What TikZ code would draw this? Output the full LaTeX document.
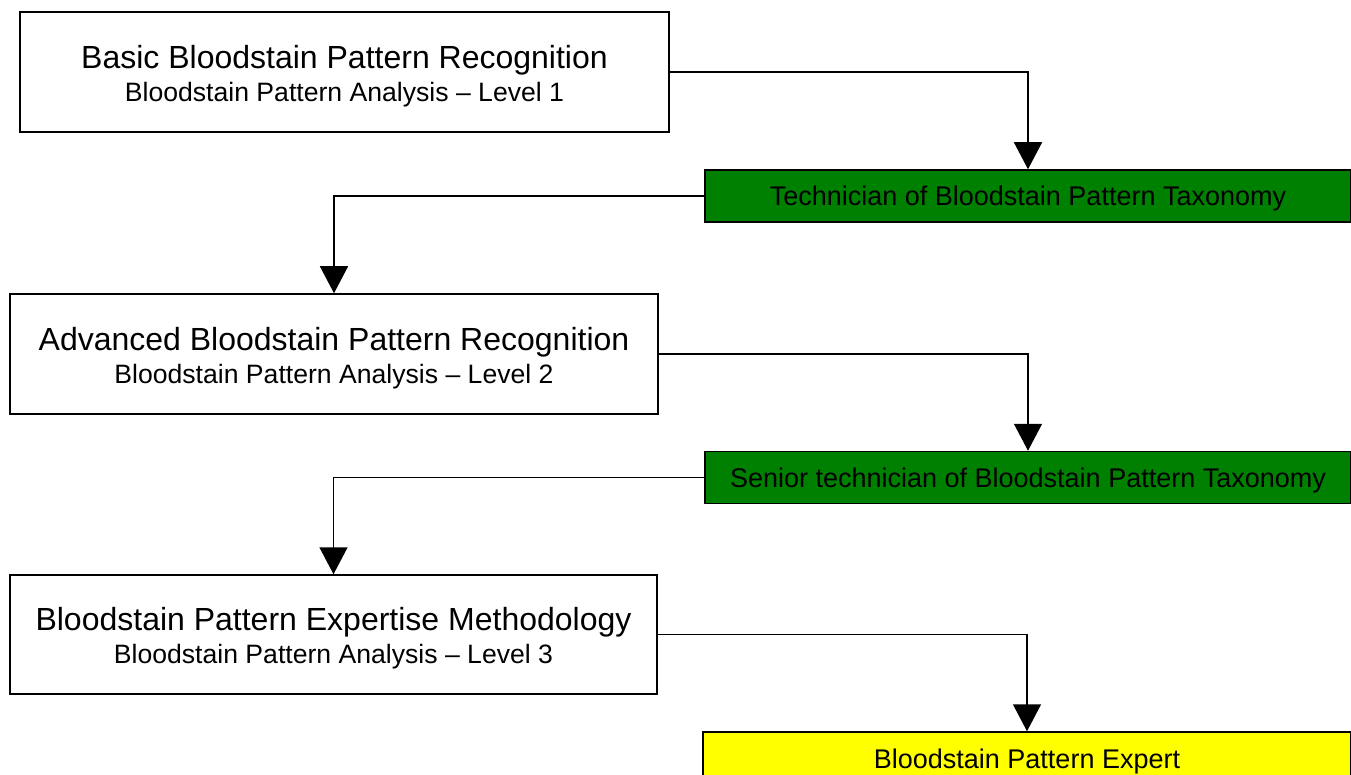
\documentclass[tikz,border=0pt]{standalone}
\usepackage{fontspec}
\setmainfont{Liberation Sans}
\usetikzlibrary{arrows.meta}
\usetikzlibrary{positioning}
\definecolor{rankgreen}{RGB}{0,128,0}
\definecolor{rankyellow}{RGB}{255,255,0}
\newcommand{\coursetitle}{\fontsize{32}{33}\selectfont}
\tikzstyle{course} = [rectangle, minimum width=648pt, minimum height=120pt, align=center, draw=black, line width=1.5pt, fill=white, font=\fontsize{26.6}{33}\selectfont, text height=64.5pt, text depth=6pt, inner sep=0pt]
\tikzstyle{rank} = [rectangle, minimum width=646pt, minimum height=52pt, text centered, draw=black, line width=1.5pt, font=\fontsize{27}{30}\selectfont, text height=26pt, text depth=6pt, inner sep=0pt]
\tikzstyle{arrow} = [line width=1.5pt, -{Triangle[length=27pt, width=28pt]}]

\begin{document}
\begin{tikzpicture}[x=1pt, y=-1pt]
	\useasboundingbox (0,0) rectangle (1351,775);
	\node (basic) [course, minimum width=649pt] at (344.5,72) {{\coursetitle Basic Bloodstain Pattern Recognition}\\Bloodstain Pattern Analysis -- Level 1};
	\node (technician) [rank, fill=rankgreen] at (1028,196) {Technician of Bloodstain Pattern Taxonomy};
	\node (advanced) [course] at (334,354) {{\coursetitle Advanced Bloodstain Pattern Recognition}\\Bloodstain Pattern Analysis -- Level 2};
	\node (senior) [rank, fill=rankgreen] at (1028,477.5) {Senior technician of Bloodstain Pattern Taxonomy};
	\node (methodology) [course, minimum width=647pt, minimum height=119pt] at (333.5,634.5) {{\coursetitle Bloodstain Pattern Expertise Methodology}\\Bloodstain Pattern Analysis -- Level 3};
	\node (expert) [rank, minimum width=648pt, fill=rankyellow] at (1027,758) {Bloodstain Pattern Expert};

	\draw [arrow] (basic.east) -| (technician.north);
	\draw [arrow] (technician.west) -| (advanced.north);
	\draw [arrow] (advanced.east) -| (senior.north);
	\draw [arrow] (senior.west) -| (methodology.north);
	\draw [arrow] (methodology.east) -| (expert.north);

\end{tikzpicture}
\end{document}
